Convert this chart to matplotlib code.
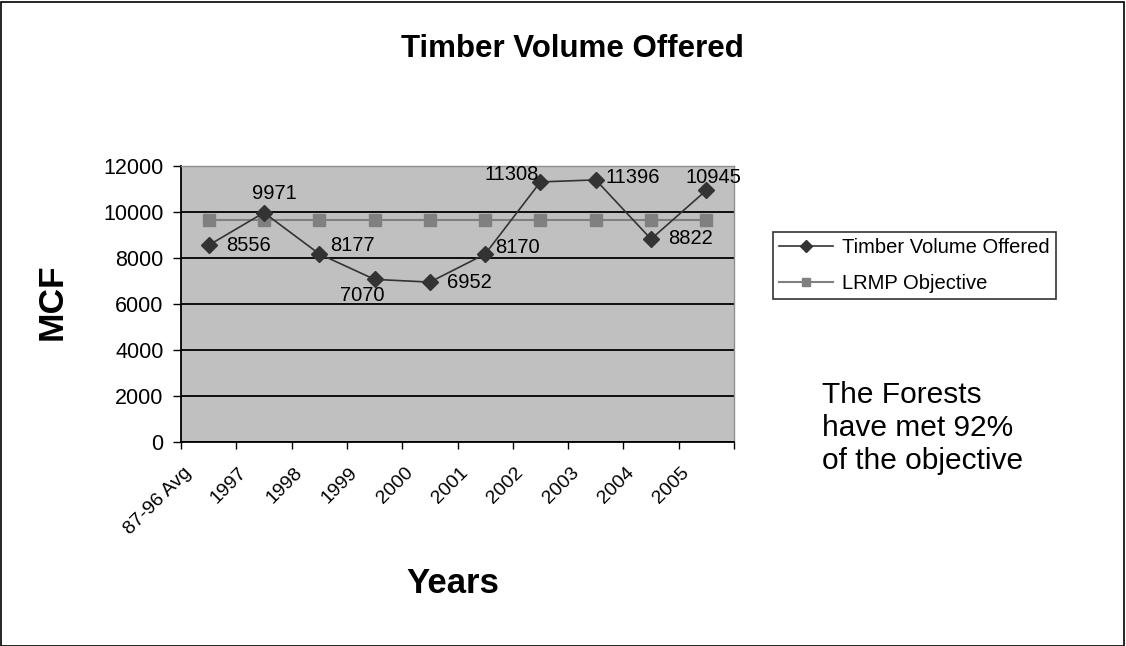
import matplotlib
matplotlib.use("Agg")
import matplotlib.pyplot as plt
import numpy as np
from matplotlib.patches import Rectangle
from matplotlib.transforms import ScaledTranslation

categories = ["87-96 Avg", "1997", "1998", "1999", "2000", "2001", "2002", "2003", "2004", "2005"]
timber_offered = [8556, 9971, 8177, 7070, 6952, 8170, 11308, 11396, 8822, 10945]
lrmp_objective = [9650] * 10
yticks = [0, 2000, 4000, 6000, 8000, 10000, 12000]

# label offsets in pixels (dx, dy, ha)
label_style = [(17, 0, "left"), (10, 19, "center"), (11, 8, "left"), (-12, -16, "center"),
               (17, 0, "left"), (10, 7, "left"), (-2, 7, "right"), (10, 2, "left"),
               (17, 1, "left"), (7, 13, "center")]

plt.rcParams["font.family"] = ["Liberation Sans", "DejaVu Sans"]

fig = plt.figure(figsize=(11.26, 6.46), dpi=100)
fig.patch.set_facecolor("white")
fig.add_artist(Rectangle((0.001, 0.0), 0.997, 0.997, transform=fig.transFigure,
                         fill=False, edgecolor="black", linewidth=1.2))

W, H = 1126, 646
left, right, top, bottom = 181, 734, 166, 442
ax = fig.add_axes([left / W, 1 - bottom / H, (right - left) / W, (bottom - top) / H])
ax.set_facecolor("#C0C0C0")

x = np.arange(len(categories))
ax.plot(x, lrmp_objective, color="#808080", marker="s", markersize=8, linewidth=1.5,
        label="LRMP Objective", zorder=3)
ax.plot(x, timber_offered, color="#333333", marker="D", markersize=8, linewidth=1.2,
        label="Timber Volume Offered", zorder=4)

for xi, v, (dx, dy, ha) in zip(x, timber_offered, label_style):
    ax.annotate(str(v), (xi, v), xytext=(dx, dy), textcoords="offset pixels",
                ha=ha, va="center", fontsize=14.5, color="black", zorder=5,
                annotation_clip=False)

ax.set_xlim(-0.5, len(categories) - 0.5)
ax.set_ylim(0, 12000)
ax.set_yticks(yticks)
ax.set_yticklabels([str(t) for t in yticks], fontsize=15.5)
ax.yaxis.grid(True, color="black", linewidth=1.3)
ax.set_axisbelow(True)

bounds = np.arange(-0.5, len(categories))
ax.set_xticks(bounds)
ax.set_xticklabels(categories + [""], rotation=45, ha="right", rotation_mode="anchor",
                   fontsize=14)
ax.tick_params(axis="y", direction="out", length=6, width=1, color="black", pad=6.5)
ax.tick_params(axis="x", direction="out", length=5, width=1, color="black", pad=11)
for lab in ax.get_xticklabels():
    lab.set_transform(lab.get_transform() + ScaledTranslation(2 / 100, 0, fig.dpi_scale_trans))

for s in ["top", "right"]:
    ax.spines[s].set_color("#909090")
    ax.spines[s].set_linewidth(1)
for s in ["left", "bottom"]:
    ax.spines[s].set_color("black")
    ax.spines[s].set_linewidth(1.3)

fig.text(572 / W, 1 - 57 / H, "Timber Volume Offered", ha="center", va="baseline",
         fontsize=22.5, fontweight="bold")
fig.text(62 / W, 1 - 302 / H, "MCF", ha="center", va="baseline", rotation=90,
         rotation_mode="anchor", fontsize=25.5, fontweight="bold")
fig.text(453 / W, 1 - 593 / H, "Years", ha="center", va="baseline",
         fontsize=25, fontweight="bold")
fig.text(822 / W, 1 - 381 / H, "The Forests\nhave met 92%\nof the objective",
         ha="left", va="top", fontsize=21.5, linespacing=1.22)

handles, labels = ax.get_legend_handles_labels()
leg = fig.legend(handles[::-1], labels[::-1], loc="upper left",
                 bbox_to_anchor=(773 / W, 1 - 232 / H), borderaxespad=0, fontsize=14.5,
                 frameon=True, fancybox=False, edgecolor="black",
                 handlelength=2.7, handletextpad=0.45, borderpad=0.3,
                 labelspacing=0.85, markerscale=0.8)
leg.get_frame().set_linewidth(1.2)

fig.savefig("out.png", dpi=100, facecolor="white")
